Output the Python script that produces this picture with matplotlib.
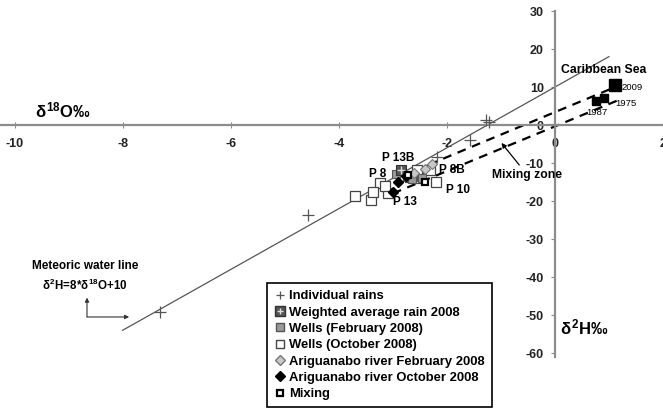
import matplotlib
matplotlib.use("Agg")
import matplotlib.pyplot as plt
from matplotlib.lines import Line2D

plt.rcParams["font.family"] = ["Liberation Sans", "DejaVu Sans"]
plt.rcParams["font.weight"] = "bold"
plt.rcParams["mathtext.fontset"] = "custom"
plt.rcParams["mathtext.rm"] = "Liberation Sans:bold"
plt.rcParams["mathtext.it"] = "Liberation Sans:bold"
plt.rcParams["mathtext.bf"] = "Liberation Sans:bold"

# ---- data (delta 18O, delta 2H, per mil) ----
rain_x = [-7.31, -4.57, -2.19, -1.57, -1.27, -1.22]
rain_y = [-49.2, -23.7, -8.4, -3.9, 1.2, 0.8]

weighted_x = [-2.85]
weighted_y = [-11.8]

wells_feb_x = [-2.83, -2.74, -2.63, -2.46, -2.65, -2.95]
wells_feb_y = [-12.4, -13.7, -13.7, -14.0, -14.2, -13.0]

wells_oct_x = [-3.70, -3.40, -3.24, -3.09, -3.37, -2.69, -2.54, -2.31, -2.56, -2.20, -3.15]
wells_oct_y = [-18.7, -19.7, -15.3, -17.9, -17.6, -13.7, -14.0, -11.8, -11.8, -15.0, -16.0]

river_feb_x = [-2.28, -2.40, -2.60]
river_feb_y = [-10.3, -11.5, -12.5]

river_oct_x = [-2.91, -3.00, -2.75]
river_oct_y = [-15.0, -17.6, -13.5]

mixing_x = [-2.41, -2.72]
mixing_y = [-15.0, -13.2]

sea_x = [1.11, 0.91, 0.76]
sea_y = [10.5, 7.1, 6.3]
sea_years = ["2009", "1975", "1987"]
sea_sizes = [8, 6, 6]

# mixing lines between groundwater and sea water
mix_upper_x = [-2.6, 1.2]
mix_upper_y = [-12.0, 10.5]
mix_lower_x = [-3.0, 1.25]
mix_lower_y = [-18.0, 7.0]

# meteoric water line: d2H = 8 * d18O + 10
mwl_slope = 8
mwl_intercept = 10
mwl_x = [-8.0, 1.0]
mwl_y = [mwl_slope * v + mwl_intercept for v in mwl_x]

x_ticks = [-10, -8, -6, -4, -2, 0, 2]
y_ticks = [-60, -50, -40, -30, -20, -10, 0, 10, 20, 30]

# ---- figure ----
fig = plt.figure(figsize=(6.63, 4.12), dpi=100)
ax = fig.add_axes([0, 0, 1, 1])
ax.set_xlim(-10.27, 2.0)
ax.set_ylim(-75.5, 32.9)

axis_col = "#8c8c8c"
for side in ("top", "right"):
    ax.spines[side].set_visible(False)
ax.spines["bottom"].set_position(("data", 0))
ax.spines["left"].set_position(("data", 0))
ax.spines["bottom"].set_color(axis_col)
ax.spines["left"].set_color(axis_col)
ax.spines["bottom"].set_linewidth(1.6)
ax.spines["left"].set_linewidth(1.6)
ax.spines["left"].set_bounds(-61, 30)

ax.set_xticks(x_ticks)
ax.set_yticks(y_ticks)
ax.set_xticklabels([str(t) for t in x_ticks])
ax.set_yticklabels([str(t) for t in y_ticks])
ax.tick_params(axis="x", direction="inout", length=4, width=0.8, color=axis_col,
               labelsize=9, pad=7, labelcolor="#222222")
ax.tick_params(axis="y", direction="out", length=3, width=0.8, color=axis_col,
               labelsize=9, pad=5, labelcolor="#222222")
for lbl in ax.get_xticklabels() + ax.get_yticklabels():
    lbl.set_fontweight("bold")

# lines
ax.plot(mwl_x, mwl_y, color="#555555", lw=0.9, zorder=2)
ax.plot(mix_upper_x, mix_upper_y, color="black", lw=1.6, ls=(0, (4, 3)), zorder=2)
ax.plot(mix_lower_x, mix_lower_y, color="black", lw=1.6, ls=(0, (4, 3)), zorder=2)

# samples
ax.plot(rain_x, rain_y, ls="none", marker="+", ms=8, mew=0.9, color="#555555", zorder=3)
ax.plot(wells_oct_x, wells_oct_y, ls="none", marker="s", ms=6.5, mfc="white",
        mec="#444444", mew=0.9, zorder=4)
ax.plot(wells_feb_x, wells_feb_y, ls="none", marker="s", ms=6, mfc="#9a9a9a",
        mec="#555555", mew=0.8, zorder=5)
ax.plot(weighted_x, weighted_y, ls="none", marker="s", ms=7, mfc="#555555",
        mec="#333333", mew=0.8, zorder=6)
ax.plot(weighted_x, weighted_y, ls="none", marker="+", ms=6, mew=1.0,
        color="#dddddd", zorder=7)
ax.plot(river_feb_x, river_feb_y, ls="none", marker="D", ms=5, mfc="#c8c8c8",
        mec="#777777", mew=0.8, zorder=6)
ax.plot(river_oct_x, river_oct_y, ls="none", marker="D", ms=5, mfc="black",
        mec="black", zorder=7)
ax.plot(mixing_x, mixing_y, ls="none", marker="s", ms=5, mfc="white",
        mec="black", mew=1.6, zorder=7)

for sx, sy, sz in zip(sea_x, sea_y, sea_sizes):
    ax.plot([sx], [sy], ls="none", marker="s", ms=sz, color="black", zorder=6)

# annotations
ax.text(0.91, 14.5, "Caribbean Sea", fontsize=8.8, ha="center", va="center")
year_pos = [(1.43, 10.0), (1.32, 5.8), (0.77, 3.4)]
for (tx, ty), yr in zip(year_pos, sea_years):
    ax.text(tx, ty, yr, fontsize=6.8, ha="center", va="center",
            fontweight="normal", fontstretch="condensed")

ax.text(-0.51, -13.2, "Mixing zone", fontsize=8.7, ha="center", va="center")
ax.annotate("", xy=(-0.99, -4.7), xytext=(-0.66, -10.5),
            arrowprops=dict(arrowstyle="-|>", color="black", lw=0.9,
                            mutation_scale=7, shrinkA=0, shrinkB=0))

well_labels = [("P 13B", -2.91, -8.7), ("P 8", -3.28, -12.9), ("P 8B", -1.91, -11.8),
               ("P 10", -1.80, -17.1), ("P 13", -2.78, -20.3)]
for txt, tx, ty in well_labels:
    ax.text(tx, ty, txt, fontsize=8.5, ha="center", va="center", zorder=8)

ax.text(-8.70, -37.1, "Meteoric water line", fontsize=8.5, ha="center", va="center")
ax.text(-8.70, -42.1, r"$\delta^{2}$H=8*$\delta^{18}$O+10", fontsize=8.3,
        ha="center", va="center")
ax.annotate("", xy=(-8.66, -45.4), xytext=(-8.66, -50.5),
            arrowprops=dict(arrowstyle="-|>", color="#333333", lw=0.8,
                            mutation_scale=6, shrinkA=0, shrinkB=0))
ax.annotate("", xy=(-7.88, -50.5), xytext=(-8.66, -50.5),
            arrowprops=dict(arrowstyle="-|>", color="#333333", lw=0.8,
                            mutation_scale=6, shrinkA=0, shrinkB=0))

ax.text(-9.10, 3.9, r"$\delta^{18}$O‰", fontsize=12, ha="center", va="center")
ax.text(0.55, -53.2, r"$\delta^{2}$H‰", fontsize=12, ha="center", va="center")

# legend
handles = [
    Line2D([], [], ls="none", marker="+", ms=6, mew=0.9, color="#555555"),
    (Line2D([], [], ls="none", marker="s", ms=6.5, mfc="#555555", mec="#333333"),
     Line2D([], [], ls="none", marker="+", ms=5, mew=1.0, color="#dddddd")),
    Line2D([], [], ls="none", marker="s", ms=6, mfc="#9a9a9a", mec="#555555"),
    Line2D([], [], ls="none", marker="s", ms=6, mfc="white", mec="#444444"),
    Line2D([], [], ls="none", marker="D", ms=5, mfc="#c8c8c8", mec="#777777"),
    Line2D([], [], ls="none", marker="D", ms=5, mfc="black", mec="black"),
    Line2D([], [], ls="none", marker="s", ms=5, mfc="white", mec="black", mew=1.6),
]
labels = ["Individual rains", "Weighted average rain 2008", "Wells (February 2008)",
          "Wells (October 2008)", "Ariguanabo river February 2008",
          "Ariguanabo river October 2008", "Mixing"]
leg = ax.legend(handles, labels, loc="upper left", bbox_to_anchor=(0.403, 0.313),
                frameon=True, fancybox=False, edgecolor="black",
                framealpha=1, handlelength=0.8, handletextpad=0.3,
                labelspacing=0.32, borderpad=0.55, borderaxespad=0,
                prop={"weight": "bold", "size": 9.4})
leg.get_frame().set_linewidth(1.2)

fig.savefig("out.png", dpi=100)
